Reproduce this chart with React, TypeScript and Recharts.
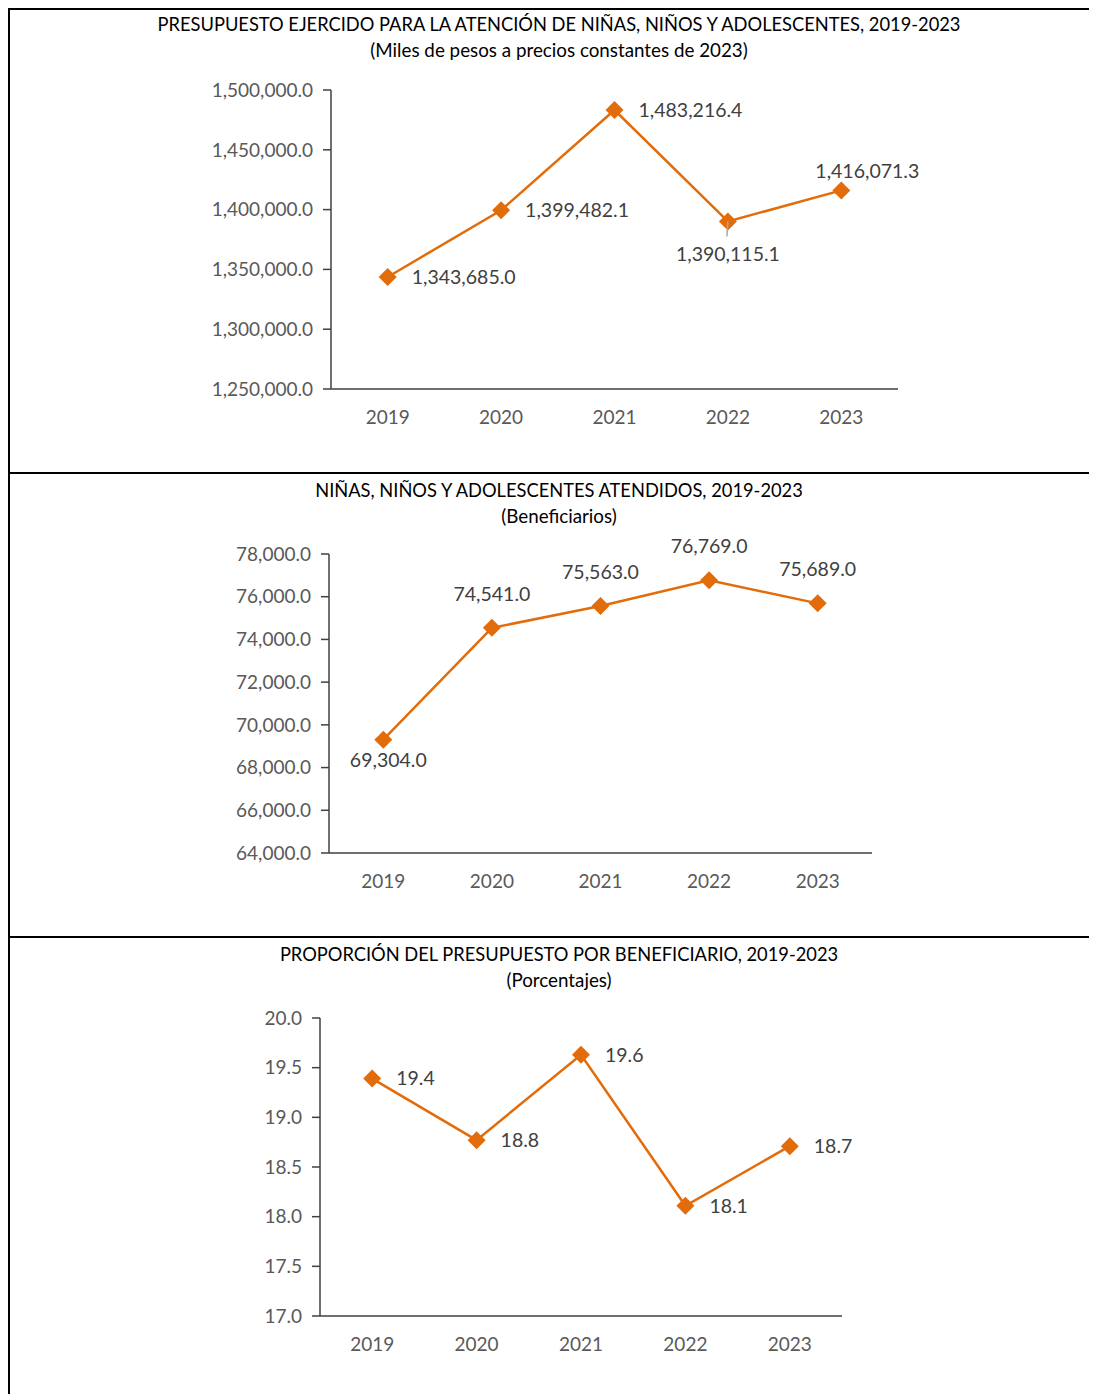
import { LineChart, Line, XAxis, YAxis } from "recharts";

const YEARS = ["2019", "2020", "2021", "2022", "2023"];

const BUDGET = [1343685.0, 1399482.1, 1483216.4, 1390115.1, 1416071.3];
const BUDGET_TICKS = [1250000, 1300000, 1350000, 1400000, 1450000, 1500000];

const ATTENDED = [69304, 74541, 75563, 76769, 75689];
const ATTENDED_TICKS = [64000, 66000, 68000, 70000, 72000, 74000, 76000, 78000];

const RATIO = [19.39, 18.77, 19.63, 18.11, 18.71];
const RATIO_TICKS = [17, 17.5, 18, 18.5, 19, 19.5, 20];

// where each data label sits relative to its point
const BUDGET_LABEL_SIDE = ["right", "right", "right", "below", "above"];
const ATTENDED_LABEL_SIDE = ["below", "above", "above", "above", "above"];
const RATIO_LABEL_SIDE = ["right", "right", "right", "right", "right"];

const ORANGE = "#E36C0A";
const FONT = "Lato, 'Noto Sans', sans-serif";

const fmt = (v: number) =>
  v.toLocaleString("en-US", { minimumFractionDigits: 1, maximumFractionDigits: 1 });

function Diamond(props: any) {
  const { cx, cy } = props;
  if (cx == null || cy == null) return null;
  const r = 9;
  return (
    <polygon
      key={`d-${props.index}`}
      points={`${cx},${cy - r} ${cx + r},${cy} ${cx},${cy + r} ${cx - r},${cy}`}
      fill={ORANGE}
    />
  );
}

function makeLabel(sides: string[], leader?: number) {
  return function PointLabel(props: any) {
    const { x, y, value, index } = props;
    const side = sides[index];
    let tx = x, ty = y, anchor: "start" | "middle" = "middle";
    if (side === "right") { tx = x + 24; anchor = "start"; }
    else if (side === "below") { ty = y + 33; }
    else if (side === "above") { ty = y - 34; }
    if (sides === BUDGET_LABEL_SIDE && side === "above") { tx = x + 26; ty = y - 19; }
    if (sides === ATTENDED_LABEL_SIDE && side === "below") { tx = x + 5; ty = y + 20; }
    return (
      <g>
        {leader === index && (
          <line x1={x} y1={y} x2={x - 1} y2={y + 15} stroke="#A6A6A6" strokeWidth={1.5} />
        )}
        <text x={tx} y={ty} dy="0.35em" textAnchor={anchor} fill="#404040"
          fontSize={19.5} fontFamily={FONT}>
          {fmt(value)}
        </text>
      </g>
    );
  };
}

interface PanelProps {
  top: number;
  height: number;
  title: string;
  subtitle: string;
  values: number[];
  ticks: number[];
  sides: string[];
  margin: { top: number; right: number; bottom: number; left: number };
  pad: number;
  leader?: number;
}

function Panel({ top, height, title, subtitle, values, ticks, sides, margin, pad, leader }: PanelProps) {
  const data = YEARS.map((y, i) => ({ year: y, value: values[i] }));
  const Label = makeLabel(sides, leader);
  return (
    <div style={{ position: "absolute", left: 0, top, width: 1089, height }}>
      <div style={{ position: "absolute", left: 51, width: 1000, top: 3, textAlign: "center",
        fontFamily: FONT, fontSize: 18.3, color: "#000", lineHeight: "26px" }}>
        <div>{title}</div>
        <div style={{ fontSize: 18.8 }}>{subtitle}</div>
      </div>
      <div style={{ position: "absolute", left: 0, top: 0 }}>
        <LineChart width={1089} height={height} data={data} margin={margin}>
          <XAxis dataKey="year" height={40} axisLine={{ stroke: "#404040", strokeWidth: 1.5 }}
            padding={{ left: pad, right: pad }}
            tickLine={false} tickSize={0} tickMargin={22}
            tick={{ fill: "#595959", fontSize: 19, fontFamily: FONT }} />
          <YAxis width={150} domain={[ticks[0], ticks[ticks.length - 1]]} ticks={ticks}
            interval={0} tickFormatter={fmt}
            axisLine={{ stroke: "#404040", strokeWidth: 1.5 }}
            tickLine={{ stroke: "#404040", strokeWidth: 1.5 }} tickSize={8} tickMargin={10}
            tick={{ fill: "#595959", fontSize: 19, fontFamily: FONT }} />
          <Line type="linear" dataKey="value" stroke={ORANGE} strokeWidth={2.5}
            dot={<Diamond />} activeDot={false} isAnimationActive={false}
            label={<Label />} />
        </LineChart>
      </div>
    </div>
  );
}

export default function App() {
  return (
    <div style={{ position: "relative", width: 1089, height: 1386, overflow: "visible" }}>
      <div style={{ position: "absolute", left: -8, top: -8, width: 1097, height: 7, overflow: "hidden" }}>
        <div style={{ position: "absolute", left: 35, top: -14, whiteSpace: "nowrap",
          fontFamily: FONT, fontSize: 19, color: "#000" }}>
          RELACIÓN ENTRE EL PRESUPUESTO EJERCIDO Y LAS NIÑAS, NIÑOS Y ADOLESCENTES ATENDIDOS CON EL PP S178, 2019-2023
        </div>
      </div>
      <div style={{ position: "absolute", left: 0, top: 0, width: 1089, height: 1386, overflow: "hidden" }}>
        <Panel top={0} height={465}
          title="PRESUPUESTO EJERCIDO PARA LA ATENCIÓN DE NIÑAS, NIÑOS Y ADOLESCENTES, 2019-2023"
          subtitle="(Miles de pesos a precios constantes de 2023)"
          values={BUDGET} ticks={BUDGET_TICKS} sides={BUDGET_LABEL_SIDE} leader={3} pad={56.7}
          margin={{ top: 82, right: 199, bottom: 44, left: 173 }} />
        <Panel top={466} height={463}
          title="NIÑAS, NIÑOS Y ADOLESCENTES ATENDIDOS, 2019-2023"
          subtitle="(Beneficiarios)"
          values={ATTENDED} ticks={ATTENDED_TICKS} sides={ATTENDED_LABEL_SIDE} pad={54.3}
          margin={{ top: 80, right: 225, bottom: 44, left: 171 }} />
        <Panel top={930} height={456}
          title="PROPORCIÓN DEL PRESUPUESTO POR BENEFICIARIO, 2019-2023"
          subtitle="(Porcentajes)"
          values={RATIO} ticks={RATIO_TICKS} sides={RATIO_LABEL_SIDE} pad={52.2}
          margin={{ top: 80, right: 255, bottom: 38, left: 162 }} />
        <div style={{ position: "absolute", left: 0, top: 0, width: 2, height: 1386, background: "#000" }} />
        <div style={{ position: "absolute", left: 0, top: 0, width: 1089, height: 2, background: "#000" }} />
        <div style={{ position: "absolute", left: 0, top: 464, width: 1089, height: 2, background: "#000" }} />
        <div style={{ position: "absolute", left: 0, top: 928, width: 1089, height: 2, background: "#000" }} />
      </div>
    </div>
  );
}
